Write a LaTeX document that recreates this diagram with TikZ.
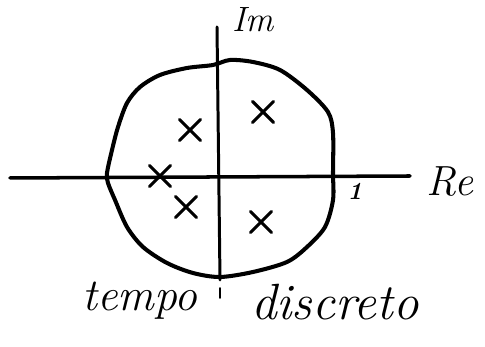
\documentclass[tikz,border=0pt]{standalone}
\usepackage{amsmath}
\usetikzlibrary{shapes.misc}

\begin{document}
\begin{tikzpicture}[line cap=round,line join=round,
  axis/.style={line width=1.7pt},
  pole/.style={cross out,draw,line width=1.8pt,minimum size=0.36cm,inner sep=0pt},
  hand/.style={font=\itshape\fontsize{26}{28}\selectfont,inner sep=0pt}]
\useasboundingbox (0,0) rectangle (9.7,6.94);
% axes
\coordinate (west) at (0.20,3.38);
\coordinate (east) at (8.20,3.42);
\coordinate (north) at (4.34,6.40);
\coordinate (south) at (4.40,1.34);
\coordinate (tick top) at (4.40,1.18);
\coordinate (tick bot) at (4.40,0.98);
\draw[axis,line width=2pt] (west) -- (east);
\draw[axis] (north) -- (south);
\draw[line width=1pt] (tick top) -- (tick bot);
% unit circle, drawn by hand
\draw[line width=2.3pt] plot[smooth cycle] coordinates {
  (2.14,3.48) (2.24,3.94) (2.36,4.40) (2.54,4.88) (2.80,5.20) (3.20,5.44)
  (3.74,5.58) (4.26,5.64) (4.60,5.74) (5.06,5.70) (5.60,5.54) (6.14,5.14)
  (6.56,4.70) (6.66,4.28) (6.66,3.48) (6.66,2.94) (6.50,2.40) (6.14,2.00)
  (5.74,1.70) (5.06,1.50) (4.40,1.40) (3.86,1.48) (3.34,1.68) (2.86,2.00)
  (2.54,2.40) (2.30,2.94) (2.16,3.28)};
% poles
\node[pole] (p1) at (3.80,4.34) {};
\node[pole] (p2) at (5.26,4.70) {};
\node[pole] (p3) at (3.20,3.42) {};
\node[pole] (p4) at (3.72,2.80) {};
\node[pole] (p5) at (5.22,2.50) {};
% labels
\node[hand,font=\itshape\fontsize{20}{22}\selectfont] (im) at (5.06,6.54) {Im};
\node[hand,font=\itshape\fontsize{24}{26}\selectfont] (re) at (9.00,3.30) {Re};
\node[hand,font=\bfseries\itshape\fontsize{14}{16}\selectfont] (one) at (7.10,3.12) {1};
\node[hand] (tempo) at (2.80,0.92) {tempo};
\node[hand,font=\itshape\fontsize{29}{31}\selectfont] (discreto) at (6.70,0.90) {discreto};
\end{tikzpicture}
\end{document}
